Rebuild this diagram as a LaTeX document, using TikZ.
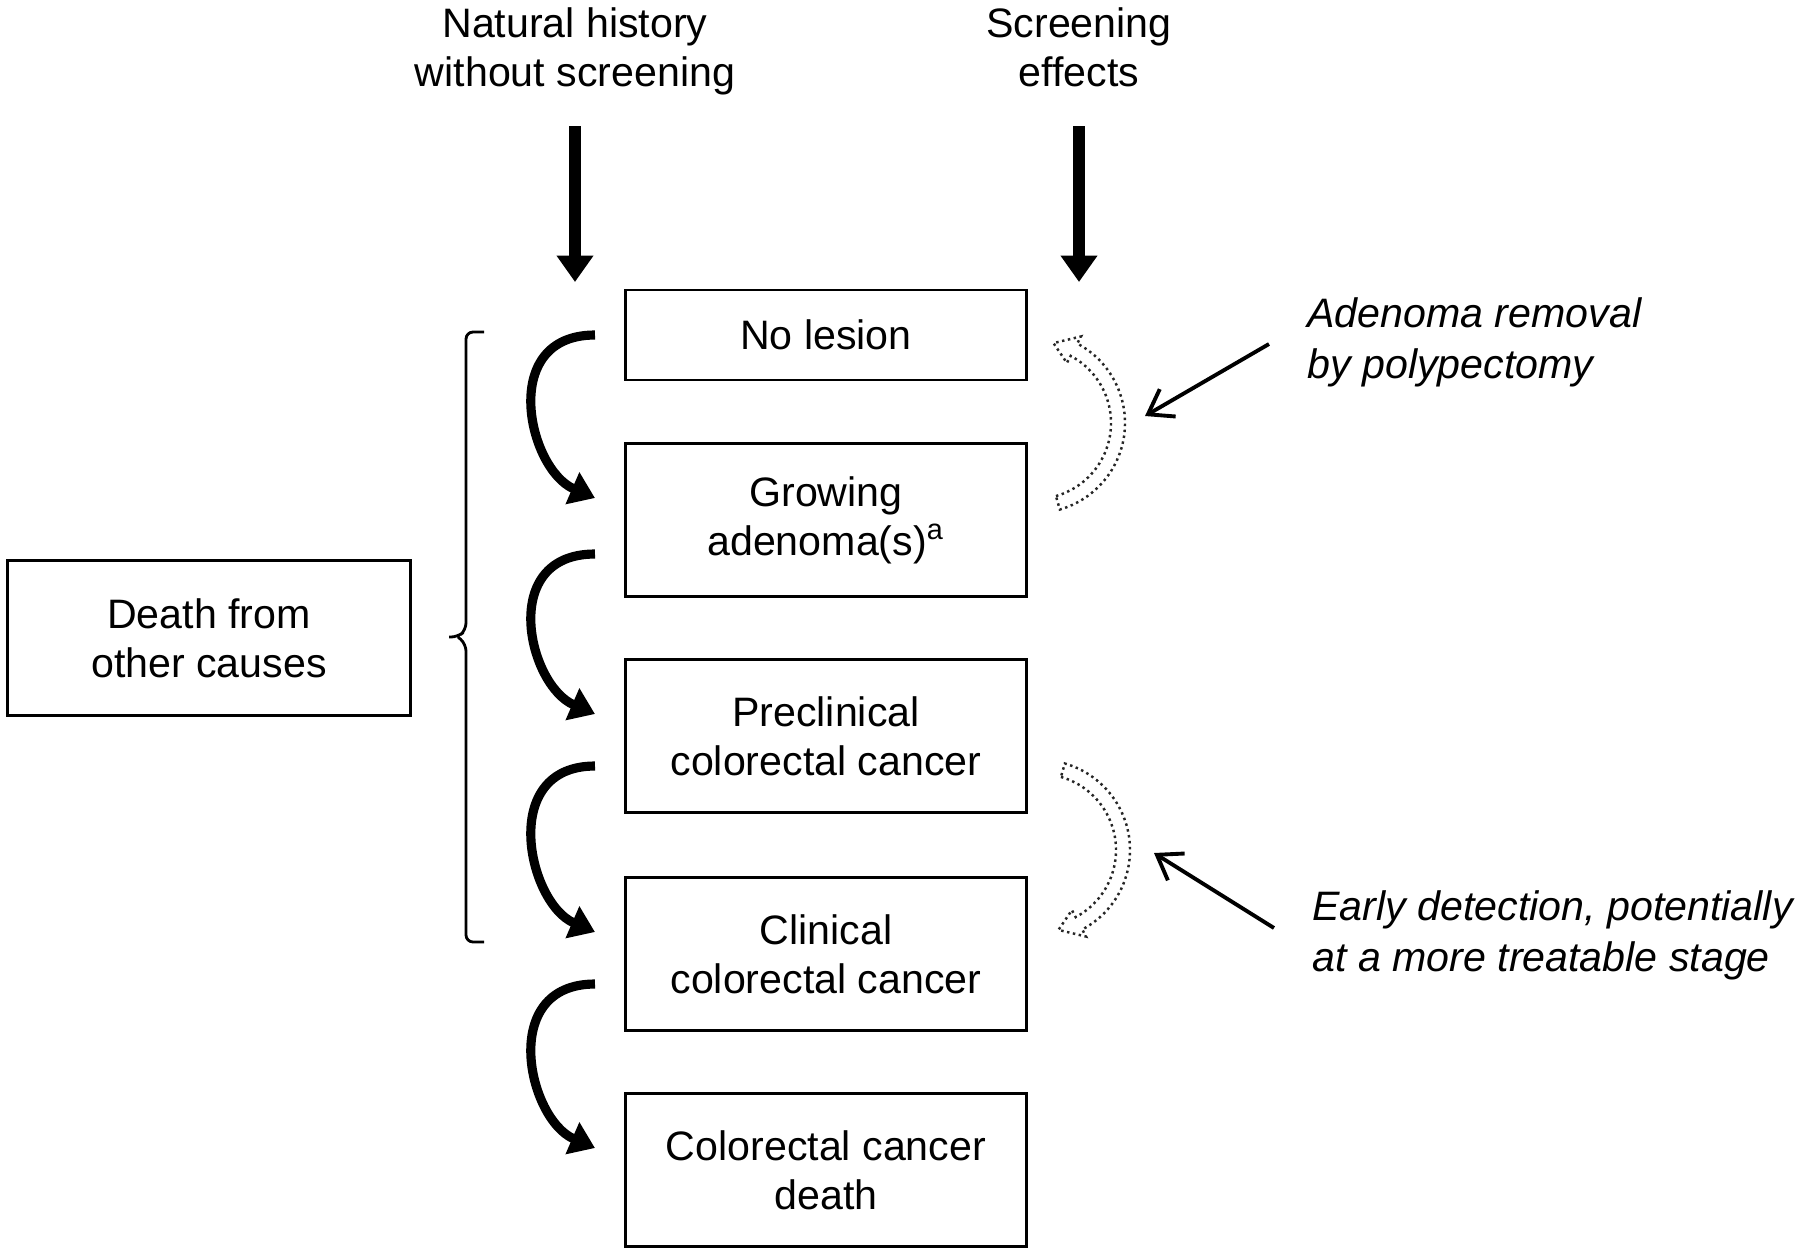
\documentclass[tikz,border=0pt]{standalone}
\usepackage{fontspec}
\setmainfont{Liberation Sans}
\usetikzlibrary{arrows.meta, calc}

\begin{document}
\begin{tikzpicture}[
    x=0.01cm, y=-0.01cm,
    font=\fontsize{11.7}{14}\selectfont,
    stage/.style={rectangle, draw=black, line width=0.8pt, minimum width=4.01cm, minimum height=1.53cm, align=center, inner sep=2pt},
    heading/.style={align=center},
    note/.style={anchor=west, align=left, font=\fontsize{11.7}{14.5}\selectfont\itshape},
    bigarrow/.style={-{Triangle[width=10pt, length=7.5pt]}, line width=3.4pt},
    flow/.style={-{Triangle[width=9.5pt, length=7pt]}, line width=2.6pt},
    pointer/.style={-{Straight Barb[length=6.5pt, width=9pt]}, line width=1.1pt},
    hollow/.style={densely dotted, line width=0.7pt, draw=black!85},
    brace/.style={line width=0.8pt, rounded corners=2pt}
]

    \useasboundingbox (0,0) rectangle (1800,1254);

    % --- Column headings ---
    \node[heading] (natural) at (575,51) {Natural history\\without screening};
    \node[heading] (screening) at (1079,47) {Screening\\effects};

    \coordinate (natural top) at (575,126);
    \coordinate (natural end) at (575,282);
    \coordinate (screening top) at (1079,126);
    \coordinate (screening end) at (1079,282);
    \draw[bigarrow] (natural top) -- (natural end);
    \draw[bigarrow] (screening top) -- (screening end);

    % --- Stages of the natural history ---
    \node[stage, minimum height=0.9cm] (nolesion) at (826,335) {No lesion};
    \node[stage] (adenoma) at (826,520) {Growing\\adenoma(s)\textsuperscript{a}};
    \node[stage] (preclinical) at (826,736) {Preclinical\\colorectal cancer};
    \node[stage] (clinical) at (826,954) {Clinical\\colorectal cancer};
    \node[stage] (crcdeath) at (826,1170) {Colorectal cancer\\death};

    \node[stage, minimum width=4.02cm, minimum height=1.55cm] (othercauses) at (209,638) {Death from\\other causes};

    % --- Transitions ---
    \foreach \a/\b/\o in {nolesion/adenoma/0, adenoma/preclinical/34, preclinical/clinical/30, clinical/crcdeath/30}
        \draw[flow] ($(\a.west)+(-29,\o)$) .. controls +(-97,0) and +(-67,-29) .. ($(\b.west)+(-29,-22)$);

    % --- Bracket for death from other causes ---
    \draw[brace] (484,332) -- (466,332) -- (466,630) -- (458,637) -- (449,637)
        (458,637) -- (466,644) -- (466,942) -- (484,942);

    % --- Screening effects (dotted hollow arrows) ---
    \foreach \cx/\cy/\tailang/\baseang/\tipang in {1035/423/74/-62/-77, 1040/850/-74/62/77} {
        \coordinate (turn) at (\cx,\cy);
        \draw[hollow] ($(turn)+(\tailang:76)$) arc[start angle=\tailang, end angle=\baseang, radius=76]
            -- ($(turn)+(\baseang:68)$) -- ($(turn)+(\tipang:82)$) -- ($(turn)+(\baseang:98)$) -- ($(turn)+(\baseang:90)$)
            arc[start angle=\baseang, end angle=\tailang, radius=90] -- cycle;
    }

    % --- Notes ---
    \node[note] (removal) at (1295,342) {Adenoma removal\\by polypectomy};
    \node[note] (detection) at (1300,935) {Early detection, potentially\\at a more treatable stage};

    \coordinate (removal tip) at (1145,416);
    \coordinate (detection tip) at (1154,853);
    \draw[pointer] ([xshift=-0.26cm, yshift=-0.02cm]removal.west) -- (removal tip);
    \draw[pointer] ([xshift=-0.26cm, yshift=0.07cm]detection.west) -- (detection tip);
\end{tikzpicture}
\end{document}
